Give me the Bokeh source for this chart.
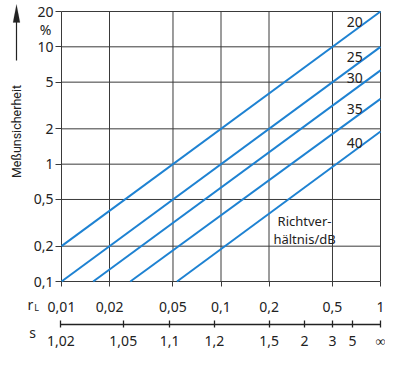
import math
from bokeh.plotting import figure
from bokeh.models import (Range1d, FixedTicker, LogAxis, CustomJSTickFormatter,
                          Label, Arrow, PolyAnnotation)
from bokeh.embed import file_html
from bokeh.resources import INLINE

# ---------------- data ----------------
directivity_db = ["20", "25", "30", "35", "40"]
rl_20 = [0.01, 1.0]
unc_20 = [0.2, 20.0]
rl_25 = [0.01, 1.0]
unc_25 = [0.1, 10.0]
rl_30 = [0.0158, 1.0]
unc_30 = [0.1, 6.3]
rl_35 = [0.027, 1.0]
unc_35 = [0.1, 3.6]
rl_40 = [0.053, 1.0]
unc_40 = [0.1, 1.9]

y_ticks = [0.1, 0.2, 0.5, 1, 2, 5, 10, 20]
y_labels = ["0,1", "0,2", "0,5", "1", "2", "5", "10", "20"]
rl_ticks = [0.01, 0.02, 0.05, 0.1, 0.2, 0.5, 1]
rl_labels = ["0,01", "0,02", "0,05", "0,1", "0,2", "0,5", "1"]
s_values = [1.02, 1.05, 1.1, 1.2, 1.5, 2, 3, 5, math.inf]
s_labels = ["1,02", "1,05", "1,1", "1,2", "1,5", "2", "3", "5", "\u221e"]

# ---------------- styling ----------------
FONT = "Noto Sans"
TXT = "#222222"
GRID = "#3a3a3a"
BLUE = "#1e82d2"

# s (VSWR) -> reflection factor r_L
s_pos = [1.0 if math.isinf(s) else (s - 1) / (s + 1) for s in s_values]

FMT_CODE = """
let best = 0, bd = Infinity;
for (let i = 0; i < vals.length; i++) {
  const d = Math.abs(Math.log(tick) - Math.log(vals[i]));
  if (d < bd) { bd = d; best = i; }
}
return labs[best];
"""

def fmt(vals, labs):
    return CustomJSTickFormatter(args=dict(vals=vals, labs=labs), code=FMT_CODE)

# ---------------- geometry (canvas pixels) ----------------
W, H = 385, 352
PL, PR = 61, 380          # pixel of first / last x tick
PT, PB = 11, 281          # pixel of last / first y tick
DXP = (PR - PL) / math.log10(rl_ticks[-1] / rl_ticks[0])
DYP = (PB - PT) / math.log10(y_ticks[-1] / y_ticks[0])

def dx(px):
    return 10 ** (math.log10(rl_ticks[0]) + (px - PL) / DXP)

def dy(py):
    return 10 ** (math.log10(y_ticks[0]) + (PB - py) / DYP)

p = figure(x_axis_type="log", y_axis_type="log",
           x_range=Range1d(dx(0), dx(W)), y_range=Range1d(dy(H), dy(0)),
           width=W, height=H, title=None,
           min_border_left=0, min_border_right=0, min_border_top=0, min_border_bottom=0,
           output_backend="svg", toolbar_location=None,
           background_fill_color="white", border_fill_color="white")
p.outline_line_color = None
p.xgrid.visible = False
p.ygrid.visible = False

# grid lines of the chart area
n_x, n_y = len(rl_ticks), len(y_ticks)
p.segment(x0=rl_ticks, y0=[y_ticks[0]] * n_x, x1=rl_ticks, y1=[y_ticks[-1]] * n_x,
          line_color=GRID, line_width=1)
p.segment(x0=[rl_ticks[0]] * n_y, y0=y_ticks, x1=[rl_ticks[-1]] * n_y, y1=y_ticks,
          line_color=GRID, line_width=1)

# y axis
ya = p.yaxis[0]
ya.fixed_location = rl_ticks[0]
ya.bounds = (y_ticks[0], y_ticks[-1])
ya.ticker = FixedTicker(ticks=y_ticks, minor_ticks=[])
ya.formatter = fmt(y_ticks, y_labels)
ya.axis_line_color = None
ya.major_tick_in = 0
ya.major_tick_out = 6
ya.major_tick_line_color = GRID
ya.minor_tick_line_color = None
ya.major_label_standoff = 2
ya.major_label_text_font = FONT
ya.major_label_text_font_size = "14px"
ya.major_label_text_color = TXT

# x axis 1: r_L
xa = p.xaxis[0]
xa.fixed_location = y_ticks[0]
xa.bounds = (rl_ticks[0], rl_ticks[-1])
xa.ticker = FixedTicker(ticks=rl_ticks, minor_ticks=[])
xa.formatter = fmt(rl_ticks, rl_labels)
xa.axis_line_color = None
xa.major_tick_in = 0
xa.major_tick_out = 5
xa.major_tick_line_color = GRID
xa.minor_tick_line_color = None
xa.major_label_standoff = 15
xa.major_label_text_font = FONT
xa.major_label_text_font_size = "14px"
xa.major_label_text_color = TXT

# x axis 2: s (VSWR)
S_LINE = PB + 43
sa = LogAxis(ticker=FixedTicker(ticks=s_pos, minor_ticks=[]),
             formatter=fmt(s_pos, s_labels))
sa.fixed_location = dy(S_LINE)
sa.bounds = (s_pos[0], s_pos[-1])
sa.axis_line_color = TXT
sa.axis_line_width = 1.3
sa.major_tick_in = 4
sa.major_tick_out = 3
sa.major_tick_line_color = TXT
sa.major_tick_line_width = 1.3
sa.minor_tick_line_color = None
sa.major_label_standoff = 3
sa.major_label_text_font = FONT
sa.major_label_text_font_size = "14px"
sa.major_label_text_color = TXT
p.add_layout(sa, "below")

# lines
series = [(rl_20, unc_20), (rl_25, unc_25), (rl_30, unc_30), (rl_35, unc_35), (rl_40, unc_40)]
for xs, ys in series:
    p.line(xs, ys, line_color=BLUE, line_width=2)

def lab(x, y, text, size="14px", angle=0.0, align="center", font=FONT):
    p.add_layout(Label(x=x, y=y, text=text, text_align=align, text_baseline="middle",
                       angle=angle, text_font=font, text_font_size=size, text_color=TXT))

# line labels
lab_y = [16.3, 8.2, 5.4, 2.98, 1.52]
for t, yy in zip(directivity_db, lab_y):
    lab(0.69, yy, t)
lab(0.334, 0.33, "Richtver-", size="13px")
lab(0.334, 0.231, "h\u00e4ltnis/dB", size="13px")

# texts around the chart area (positions given in canvas pixels)
lab(dx(45), dy(29), "%")
lab(dx(30), dy(PB + 23), "r")
lab(dx(36), dy(PB + 26), "L", size="9px")
lab(dx(32), dy(S_LINE + 8), "s")
lab(dx(16), dy(131), "Me\u00dfunsicherheit", size="12.5px", angle=math.pi / 2, font="Roboto")

# arrow above the axis title
p.add_layout(Arrow(end=None, x_start=dx(16), y_start=dy(60), x_end=dx(16), y_end=dy(20),
                   line_color=TXT, line_width=1.2))
p.add_layout(PolyAnnotation(xs=[dx(12.5), dx(19.5), dx(16)], ys=[dy(22), dy(22), dy(4)],
                            fill_color=TXT, fill_alpha=1, line_color=TXT, line_width=0.5))

open("out.html", "w").write(file_html(p, INLINE))
